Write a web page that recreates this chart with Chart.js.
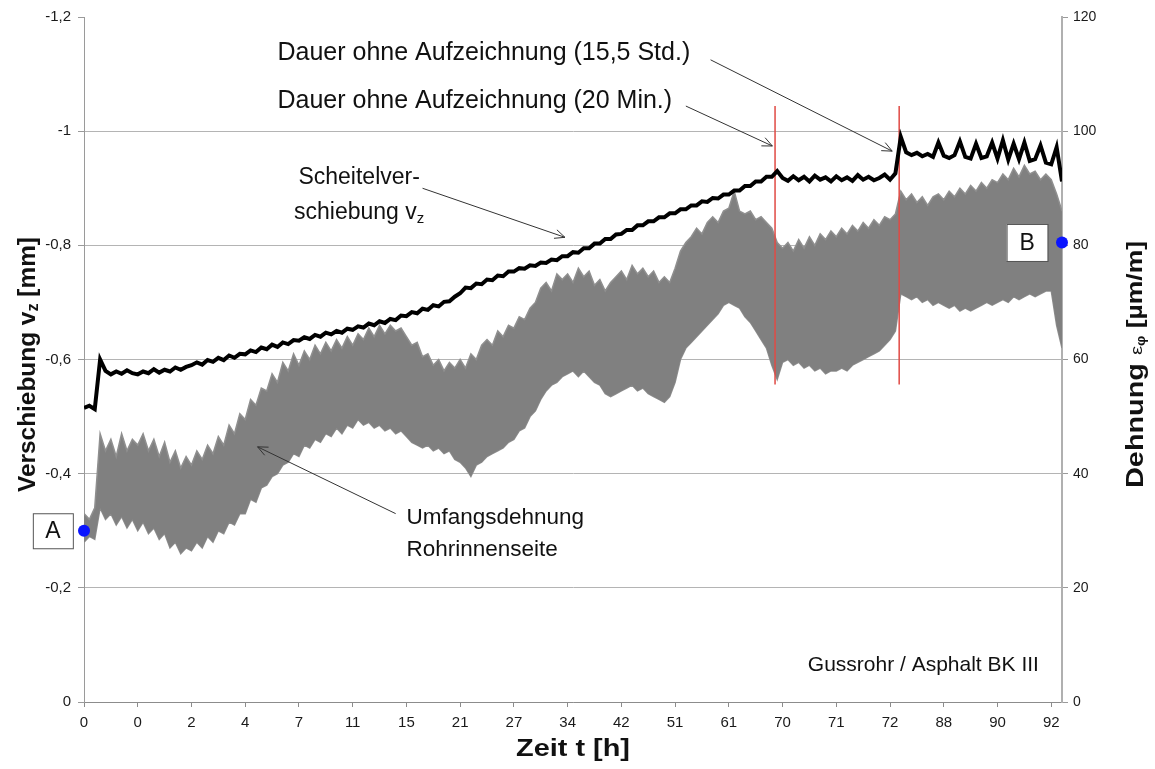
<!DOCTYPE html>
<html lang="de">
<head>
<meta charset="utf-8">
<title>Scheitelverschiebung und Umfangsdehnung – Gussrohr / Asphalt BK III</title>
<script src="https://cdn.jsdelivr.net/npm/chart.js@4.4.1/dist/chart.umd.min.js"></script>
<style>
  html, body { margin: 0; padding: 0; background: #fff; }
  #wrap { position: relative; width: 1155px; height: 769px; }
</style>
</head>
<body>
<div id="wrap"><canvas id="chart"></canvas></div>
<script>
// Zeitachse: Beschriftung je Teilstrich (Kategorieachse mit ungleichen Stunden)
const tickLabels = ["0", "0", "2", "4", "7", "11", "15", "21", "27", "34",
  "42", "51", "61", "70", "71", "72", "88", "90", "92"];

// Abstand der Messpunkte in Teilstrichen
const sampleStep = 0.1;

// Scheitelverschiebung v_z [mm]
const vz = [
  -0.515, -0.519, -0.513, -0.600, -0.580, -0.574, -0.579, -0.575, -0.581, -0.576,
  -0.574, -0.579, -0.576, -0.583, -0.577, -0.582, -0.579, -0.586, -0.582, -0.587,
  -0.590, -0.595, -0.591, -0.599, -0.596, -0.603, -0.599, -0.607, -0.603, -0.610,
  -0.609, -0.616, -0.613, -0.621, -0.618, -0.626, -0.622, -0.630, -0.627, -0.634,
  -0.633, -0.639, -0.636, -0.643, -0.640, -0.647, -0.644, -0.650, -0.647, -0.654,
  -0.652, -0.658, -0.656, -0.663, -0.660, -0.667, -0.664, -0.671, -0.669, -0.677,
  -0.676, -0.683, -0.681, -0.689, -0.687, -0.695, -0.693, -0.701, -0.702, -0.710,
  -0.716, -0.726, -0.725, -0.733, -0.732, -0.740, -0.739, -0.747, -0.746, -0.754,
  -0.754, -0.760, -0.759, -0.765, -0.764, -0.770, -0.769, -0.775, -0.774, -0.781,
  -0.781, -0.788, -0.787, -0.795, -0.795, -0.803, -0.803, -0.811, -0.811, -0.819,
  -0.820, -0.827, -0.827, -0.835, -0.835, -0.842, -0.842, -0.849, -0.849, -0.856,
  -0.856, -0.863, -0.863, -0.870, -0.870, -0.877, -0.876, -0.883, -0.882, -0.889,
  -0.889, -0.896, -0.896, -0.904, -0.904, -0.912, -0.912, -0.920, -0.920, -0.930,
  -0.918, -0.913, -0.921, -0.914, -0.920, -0.912, -0.922, -0.915, -0.919, -0.912,
  -0.921, -0.914, -0.919, -0.913, -0.923, -0.915, -0.920, -0.914, -0.918, -0.924,
  -0.915, -0.926, -0.990, -0.963, -0.958, -0.962, -0.956, -0.960, -0.955, -0.980,
  -0.957, -0.953, -0.958, -0.982, -0.955, -0.952, -0.978, -0.953, -0.956, -0.980,
  -0.952, -0.984, -0.950, -0.978, -0.951, -0.980, -0.948, -0.951, -0.975, -0.945,
  -0.942, -0.972, -0.912
];

// Umfangsdehnung Rohrinnenseite [µm/m]: obere und untere Hüllkurve
const strainHigh = [
  33, 32, 34, 47, 44, 46, 43, 47, 44, 46,
  45, 47, 44, 46, 43, 45.5, 42, 44, 41, 43,
  41.5, 44, 42.5, 45, 43.5, 46.5, 45, 48.5, 47, 50.5,
  49.5, 53, 52, 55, 54.5, 57.5, 56, 59.5, 58, 61,
  59, 61.5, 60, 62.5, 61, 63, 61.5, 63.5, 62, 64,
  62.5, 64.5, 63.5, 65.5, 64, 66, 64.5, 66, 65, 65.5,
  64, 62.5, 63, 60.5, 61, 59, 60, 58, 59.5, 58.5,
  60, 58.5, 61, 60, 62.5, 63.5, 62.5, 65, 64, 66,
  65.5, 67.5, 67, 69, 70, 72.5, 73.5, 72, 75, 74,
  75, 73.5, 76, 74.5, 75.5, 73, 74, 72, 73.5, 74.5,
  75.5, 74, 76.5, 75, 76, 74.5, 75.5, 73.5, 74.5, 73.5,
  76, 79, 80.5, 81.5, 83, 82, 84, 85, 84, 86,
  86.5, 89.5, 86, 85.5, 86, 84.5, 85, 84, 83, 80.5,
  79.5, 80.5, 79, 81, 79.5, 81.5, 80, 82, 81, 82.5,
  81.5, 83, 82, 83.5, 82.5, 84, 83, 84.5, 83.5, 85,
  84.5, 85.5, 89.5, 88, 89, 87.5, 88.5, 87, 88.5, 89,
  88, 89.5, 88.5, 90, 89, 90.5, 89.5, 91, 90, 91.5,
  91, 92.5, 91.5, 93.5, 92, 94, 92.5, 93, 91.5, 92.5,
  91.5, 89, 86
];
const strainLow = [
  28, 29, 28.5, 34, 32, 33, 31, 32.5, 30.5, 32,
  30, 31.5, 29.5, 30.5, 28.5, 29.5, 27, 28, 26, 27,
  26.5, 28, 27, 29, 28, 30, 29.5, 31.5, 31, 33,
  33, 35.5, 35, 37.5, 38, 39.5, 40, 41.5, 42, 43.5,
  43, 45, 44.5, 46, 45.5, 47, 46.5, 48, 47, 48.5,
  48, 49.5, 48.5, 49, 48, 48.5, 47.5, 48, 47, 47.5,
  46.5, 45.5, 45, 44.5, 45, 44, 44.5, 43.5, 44, 42.5,
  42, 41, 39.5, 41.5, 42, 43, 43.5, 44, 44.5, 45.5,
  46, 47.5, 48, 50, 51, 53, 54.5, 55.5, 56, 57,
  57.5, 58, 57, 58, 57, 56, 55.5, 54, 53.5, 54,
  54.5, 55, 55.5, 54.5, 55, 54, 53.5, 53, 52.5, 53.5,
  56, 60, 62, 63, 64, 65, 66, 67, 68, 69.5,
  70, 69.5, 69, 67.5, 66.5, 65, 63.5, 62, 59, 56.5,
  59.5, 60, 59, 59.5, 58.5, 59, 58, 58.5, 57.5, 58,
  58, 58.5, 58, 59, 59.5, 60, 60.5, 61, 61.5, 62.5,
  63.5, 65, 71.5, 71, 70.5, 71, 70, 70.5, 69.5, 70,
  69.5, 69, 69.5, 68.5, 69, 68.5, 69, 69.5, 70, 69.5,
  70, 70.5, 70, 71, 70.5, 71, 71.5, 71, 71.5, 72,
  72, 66, 62
];

// Zeitpunkte ohne Aufzeichnung (in Teilstrichen) und Höhe der Markierung [mm]
const gapTimes = [12.86, 15.17];
const gapSpan = [-1.044, -0.556];

// Auswertepunkte A und B (Dehnung)
const pointNames = ["A", "B"];
const pointTimes = [0, 18.2];
const pointStrain = [30, 80.5];

const xMax = (vz.length - 1) * sampleStep;
const toXY = (arr) => arr.map((v, i) => ({ x: i * sampleStep, y: v }));

const FONT = '"Liberation Sans", Arial, sans-serif';
Chart.defaults.font.family = FONT;

function arrow(ctx, x1, y1, x2, y2) {
  ctx.beginPath();
  ctx.moveTo(x1, y1);
  ctx.lineTo(x2, y2);
  ctx.stroke();
  const a = Math.atan2(y2 - y1, x2 - x1);
  const len = 11, spread = 0.42;
  ctx.beginPath();
  ctx.moveTo(x2 - len * Math.cos(a - spread), y2 - len * Math.sin(a - spread));
  ctx.lineTo(x2, y2);
  ctx.lineTo(x2 - len * Math.cos(a + spread), y2 - len * Math.sin(a + spread));
  ctx.stroke();
}

// text runs drawn centred on the current origin, stretched or squeezed to width w
function richText(ctx, runs, w) {
  let total = 0;
  runs.forEach((r) => { ctx.font = r.font; r.w = ctx.measureText(r.t).width; total += r.w; });
  const k = w ? w / total : 1;
  ctx.save();
  ctx.scale(k, 1);
  let xx = -total / 2;
  runs.forEach((r) => { ctx.font = r.font; ctx.fillText(r.t, xx, r.dy || 0); xx += r.w; });
  ctx.restore();
}

const notesPlugin = {
  id: "notes",
  afterDraw(chart) {
    const { ctx, chartArea, scales: { x, y } } = chart;
    const px = (u) => x.getPixelForValue(u);
    const py = (v) => y.getPixelForValue(v);
    ctx.save();
    ctx.fillStyle = "#111";
    ctx.strokeStyle = "#333";
    ctx.lineWidth = 1;
    ctx.textBaseline = "middle";

    // Hinweise zu den Messlücken
    ctx.font = "25px " + FONT;
    ctx.textAlign = "left";
    ctx.fillText("Dauer ohne Aufzeichnung (15,5 Std.)", px(3.6), py(-1.137));
    ctx.fillText("Dauer ohne Aufzeichnung (20 Min.)", px(3.6), py(-1.052));
    arrow(ctx, px(11.66), py(-1.125), px(15.04), py(-0.965));
    arrow(ctx, px(11.2), py(-1.044), px(12.81), py(-0.974));

    // Scheitelverschiebung
    ctx.save();
    ctx.translate(px(5.12), py(-0.918));
    richText(ctx, [{ t: "Scheitelver-", font: "23px " + FONT }]);
    ctx.restore();
    ctx.save();
    ctx.translate(px(5.12), py(-0.858));
    richText(ctx, [
      { t: "schiebung v", font: "23px " + FONT },
      { t: "z", font: "15px " + FONT, dy: 7 }
    ]);
    ctx.restore();
    arrow(ctx, px(6.3), py(-0.9), px(8.95), py(-0.814));

    // Umfangsdehnung
    ctx.font = "22.5px " + FONT;
    ctx.textAlign = "left";
    ctx.fillText("Umfangsdehnung", px(6.0), py(-0.323));
    ctx.fillText("Rohrinnenseite", px(6.0), py(-0.267));
    arrow(ctx, px(5.8), py(-0.33), px(3.23), py(-0.447));

    // Versuchsbezeichnung
    ctx.font = "21px " + FONT;
    ctx.textAlign = "right";
    ctx.fillText("Gussrohr / Asphalt BK III", px(17.77), py(-0.065));

    // Kästchen A und B
    const boxes = [
      { c: pointNames[0], u: -0.58, v: -0.3, w: 40, h: 35 },
      { c: pointNames[1], u: 17.55, v: -0.805, w: 41, h: 37 }
    ];
    boxes.forEach((b) => {
      const bx = px(b.u) - b.w / 2, by = py(b.v) - b.h / 2;
      ctx.fillStyle = "#fff";
      ctx.fillRect(bx, by, b.w, b.h);
      ctx.strokeStyle = "#555";
      ctx.strokeRect(bx + 0.5, by + 0.5, b.w, b.h);
      ctx.fillStyle = "#111";
      ctx.font = "23px " + FONT;
      ctx.textAlign = "center";
      ctx.fillText(b.c, px(b.u), py(b.v) + 1);
    });

    // Achsentitel
    ctx.fillStyle = "#111";
    ctx.textAlign = "left";
    const midY = (chartArea.top + chartArea.bottom) / 2 + 5;
    ctx.save();
    ctx.translate(28, midY);
    ctx.rotate(-Math.PI / 2);
    richText(ctx, [
      { t: "Verschiebung v", font: "bold 24px " + FONT },
      { t: "z", font: "bold 16px " + FONT, dy: 6 },
      { t: " [mm]", font: "bold 24px " + FONT }
    ], 255);
    ctx.restore();

    ctx.save();
    ctx.translate(1136, midY);
    ctx.rotate(-Math.PI / 2);
    richText(ctx, [
      { t: "Dehnung ", font: "bold 24px " + FONT },
      { t: "ε", font: "17px " + FONT, dy: 1 },
      { t: "φ", font: "bold 12px " + FONT, dy: 6 },
      { t: " [µm/m]", font: "bold 22px " + FONT }
    ], 247);
    ctx.restore();

    ctx.save();
    ctx.translate((chartArea.left + chartArea.right) / 2, 749);
    richText(ctx, [{ t: "Zeit t [h]", font: "bold 24px " + FONT }], 114);
    ctx.restore();

    ctx.restore();
  }
};

const datasets = [
  {
    label: "Scheitelverschiebung v_z",
    data: toXY(vz),
    yAxisID: "y",
    borderColor: "#000",
    borderWidth: 4,
    pointRadius: 0,
    tension: 0,
    order: 1
  },
  ...gapTimes.map((t) => ({
    label: "Lücke",
    data: gapSpan.map((v) => ({ x: t, y: v })),
    yAxisID: "y",
    borderColor: "#e04a44",
    borderWidth: 1.5,
    pointRadius: 0,
    order: 2
  })),
  {
    label: "Umfangsdehnung max",
    data: toXY(strainHigh),
    yAxisID: "y1",
    borderColor: "#8f8f8f",
    borderWidth: 1.5,
    backgroundColor: "#808080",
    fill: "+1",
    pointRadius: 0,
    tension: 0,
    order: 3
  },
  {
    label: "Umfangsdehnung min",
    data: toXY(strainLow),
    yAxisID: "y1",
    borderColor: "#8f8f8f",
    borderWidth: 1.5,
    pointRadius: 0,
    tension: 0,
    order: 3
  },
  {
    label: "Auswertepunkte",
    data: pointTimes.map((t, i) => ({ x: t, y: pointStrain[i] })),
    yAxisID: "y1",
    showLine: false,
    pointRadius: 6,
    pointBackgroundColor: "#0a14ff",
    pointBorderWidth: 0,
    clip: false,
    order: 0
  }
];

new Chart(document.getElementById("chart"), {
  type: "line",
  data: { datasets },
  plugins: [notesPlugin],
  options: {
    responsive: true,
    maintainAspectRatio: false,
    animation: false,
    layout: { padding: { top: 17, left: 0, right: 0, bottom: 0 } },
    plugins: { legend: { display: false }, tooltip: { enabled: false } },
    scales: {
      x: {
        type: "linear",
        min: 0,
        max: xMax,
        afterFit: (s) => { s.height = 67; },
        grid: { drawOnChartArea: false, tickLength: 5, color: "#8c8c8c" },
        border: { color: "#8c8c8c" },
        ticks: {
          stepSize: 1,
          includeBounds: false,
          autoSkip: false,
          maxRotation: 0,
          padding: 7,
          color: "#1a1a1a",
          font: { size: 15 },
          callback: (v) => {
            const i = Math.round(v);
            return Math.abs(v - i) < 1e-6 ? tickLabels[i] : null;
          }
        }
      },
      y: {
        position: "left",
        min: -1.2,
        max: 0,
        reverse: true,
        afterFit: (s) => { s.width = 84; },
        grid: {
          color: (c) => (c.tick && c.tick.value <= -1.19 ? "rgba(0,0,0,0)" : "#b4b4b4"),
          tickColor: "#9a9a9a",
          tickLength: 6
        },
        border: { color: "#9a9a9a" },
        ticks: {
          stepSize: 0.2,
          padding: 7,
          color: "#1a1a1a",
          font: { size: 15 },
          callback: (v) => String(Math.round(v * 10) / 10).replace(".", ",")
        }
      },
      y1: {
        position: "right",
        min: 0,
        max: 120,
        afterFit: (s) => { s.width = 93; },
        grid: { drawOnChartArea: false, tickColor: "#9a9a9a", tickLength: 6 },
        border: { color: "#b0b0b0", width: 2 },
        ticks: { stepSize: 20, padding: 5, color: "#1a1a1a", font: { size: 14 } }
      }
    }
  }
});
</script>
</body>
</html>
